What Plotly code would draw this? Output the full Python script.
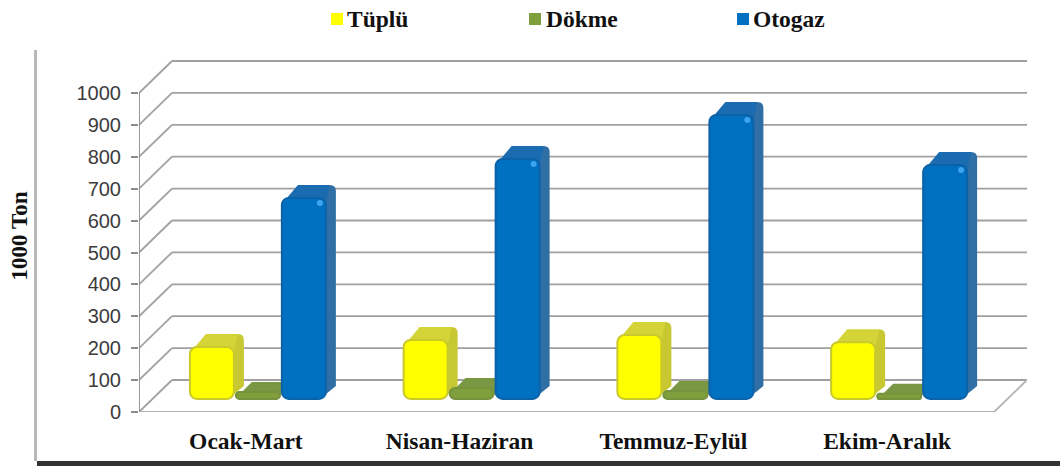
import plotly.graph_objects as go

# ---- data (1000 Ton) ----
categories = ["Ocak-Mart", "Nisan-Haziran", "Temmuz-Eylül", "Ekim-Aralık"]
tuplu = [163, 185, 200, 178]
dokme = [22, 34, 25, 16]
otogaz = [630, 752, 890, 733]
y_ticks = [0, 100, 200, 300, 400, 500, 600, 700, 800, 900, 1000]

# ---- pseudo-3D projection, expressed in page pixels ----
W, H = 1060, 466
L, R, T, B = 139, 33, 60, 54
PX_PER_CAT = 213.75
PX_PER_VAL = 0.319
PLOT_W, PLOT_H = W - L - R, H - T - B
X_MIN = -0.5
X_MAX = X_MIN + PLOT_W / PX_PER_CAT
Y_MAX = PLOT_H / PX_PER_VAL
FRONT_RIGHT = 3.5
WALL_DX, WALL_DY = 33 / PX_PER_CAT, 32 / PX_PER_VAL
BAR_BASE = 41
BAR_W = 44 / PX_PER_CAT
DEPTH_DX = 10 / PX_PER_CAT
RX, RY = 6 / PX_PER_CAT, 6 / PX_PER_VAL
TOP_LEFT_DX = 16 / PX_PER_CAT

series = [
    dict(name="Tüplü", vals=tuplu, off=-56 / PX_PER_CAT, depth=13 / PX_PER_VAL, face="#ffff00", edge="#c9c92c",
         side="#c8c832", top="#d4d438"),
    dict(name="Dökme", vals=dokme, off=-10 / PX_PER_CAT, depth=10 / PX_PER_VAL, face="#7f9f3d", edge="#76923c",
         side="#76923c", top="#7a9744"),
    dict(name="Otogaz", vals=otogaz, off=36 / PX_PER_CAT, depth=13 / PX_PER_VAL, face="#0070c0", edge="#0b62a8",
         side="#2f6fa5", top="#1a6bb0"),
]

GRID = "#a0a0a0"
shapes = []


def line(x0, y0, x1, y1, color=GRID, width=1.8):
    shapes.append(dict(type="line", layer="below", xref="x", yref="y", x0=x0, y0=y0, x1=x1, y1=y1,
                       line=dict(color=color, width=width)))


# gridlines on the wall and the left side
for t in y_ticks:
    line(X_MIN, t, X_MIN + WALL_DX, t + WALL_DY)
    line(X_MIN + WALL_DX, t + WALL_DY, X_MAX, t + WALL_DY)
# floor and front axis
line(X_MIN, 0, FRONT_RIGHT, 0, "#b4b4b4")
line(FRONT_RIGHT, 0, FRONT_RIGHT + WALL_DX, WALL_DY, "#b4b4b4")
line(X_MIN, 0, X_MIN, y_ticks[-1], "#8c8c8c")

# depth faces of the bars
for s in series:
    for i, v in enumerate(s["vals"]):
        x0 = i + s["off"]
        x1 = x0 + BAR_W
        yb = BAR_BASE
        yt = BAR_BASE + v
        xb = x1 + DEPTH_DX
        yd = yt + s["depth"]
        side = (f"M{x1 - RX},{yb} L{xb},{yb + s['depth']} L{xb},{yd - RY} Q{xb},{yd} {xb - RX},{yd} "
                f"L{x1 - RX},{yt} Z")
        top = (f"M{x0},{yt - RY} L{x0 + TOP_LEFT_DX},{yd} L{xb - RX},{yd} L{x1},{yt - RY} Z")
        shapes.append(dict(type="path", layer="below", xref="x", yref="y", path=side,
                           fillcolor=s["side"], line=dict(width=0)))
        shapes.append(dict(type="path", layer="below", xref="x", yref="y", path=top,
                           fillcolor=s["top"], line=dict(width=0)))


def px(x):
    return (x - L) / PLOT_W


def py(y):
    return (H - B - y) / PLOT_H


# frame shadow
shapes.append(dict(type="rect", xref="paper", yref="paper", x0=px(34), x1=px(37), y0=py(50), y1=py(461),
                   fillcolor="#b8b8b8", line=dict(width=0)))
shapes.append(dict(type="rect", xref="paper", yref="paper", x0=px(37), x1=px(1060), y0=py(461), y1=py(466),
                   fillcolor="#333333", line=dict(width=0)))

fig = go.Figure()
for s in series:
    fig.add_trace(go.Bar(
        name=s["name"], x=list(range(len(categories))), y=s["vals"], base=BAR_BASE,
        width=BAR_W, offset=s["off"],
        marker=dict(color=s["face"], line=dict(color=s["edge"], width=2), cornerradius=7),
        showlegend=False,
    ))

# glint at the top corner of the tall bars
blue = series[2]
fig.add_trace(go.Scatter(
    x=[i + blue["off"] + BAR_W - 6 / PX_PER_CAT for i in range(len(categories))],
    y=[BAR_BASE + v - 5 / PX_PER_VAL for v in otogaz],
    mode="markers", marker=dict(color="#3fa4ee", size=6), showlegend=False, hoverinfo="skip",
))

# legend
annotations = []
legend_pos = [(331, 345), (529, 544), (737, 751)]
for s, (mx, tx) in zip(series, legend_pos):
    shapes.append(dict(type="rect", xref="paper", yref="paper", x0=px(mx), x1=px(mx + 12), y0=py(13), y1=py(25),
                       fillcolor=s["face"], line=dict(width=0)))
    annotations.append(dict(xref="paper", yref="paper", x=px(tx), y=py(19), xanchor="left", yanchor="middle",
                            text=f"<b>{s['name']}</b>", showarrow=False,
                            font=dict(family="Liberation Serif", size=23.5, color="#111111")))

fig.update_layout(
    width=W, height=H,
    margin=dict(l=L, r=R, t=T, b=B), autosize=False,
    paper_bgcolor="white", plot_bgcolor="white", barmode="overlay", showlegend=False,
    shapes=shapes, annotations=annotations,
    xaxis=dict(automargin=False, range=[X_MIN, X_MAX], tickmode="array", tickvals=list(range(len(categories))),
               ticktext=[f"<b>{c}</b>" for c in categories], showgrid=False, zeroline=False, showline=False,
               ticks="", ticklabelstandoff=12,
               tickfont=dict(family="Liberation Serif", size=23.5, color="#111111")),
    yaxis=dict(automargin=False, range=[0, Y_MAX], tickmode="array", tickvals=y_ticks, showgrid=False,
               zeroline=False, showline=False, ticks="outside", ticklen=7, tickwidth=1.5, tickcolor="#8c8c8c",
               ticklabelstandoff=6,
               tickfont=dict(family="Liberation Sans", size=20, color="#3c3c3c"),
               title=dict(text="<b>1000 Ton</b>", standoff=42,
                          font=dict(family="Liberation Serif", size=23, color="#111111"))),
)
fig.write_html("out.html", post_script="document.body.style.margin='0';",
               config=dict(displayModeBar=False))
